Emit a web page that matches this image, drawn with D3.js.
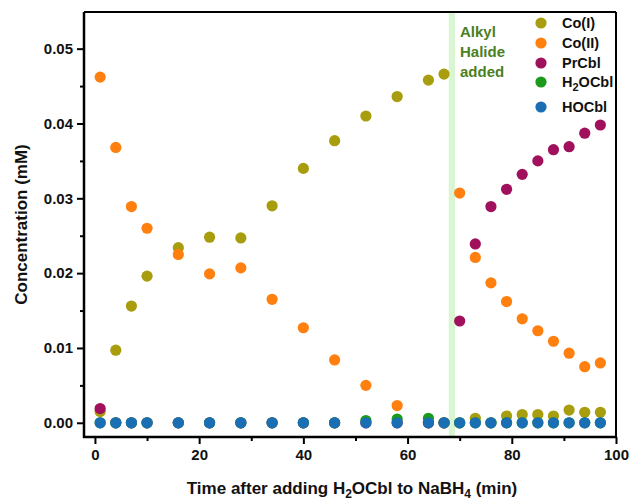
<!DOCTYPE html>
<html>
<head>
<meta charset="utf-8">
<script src="https://cdn.jsdelivr.net/npm/d3@7"></script>
<style>
  body { margin: 0; background: #fff; }
  svg { font-family: Arial, "Liberation Sans", sans-serif; }
</style>
</head>
<body>
<div id="canvas"></div>
<script>
// time points (min)
const times = [1, 4, 7, 10, 16, 22, 28, 34, 40, 46, 52, 58, 64, 67, 70, 73, 76, 79, 82, 85, 88, 91, 94, 97];

// concentrations (mM)
const coI = [0.0015, 0.0097, 0.0156, 0.0196, 0.0234, 0.0248, 0.0247, 0.0290, 0.0340, 0.0377, 0.0410, 0.0436, 0.0458, 0.0466,
  0, 0.0006, 0, 0.0009, 0.0011, 0.0011, 0.0009, 0.0017, 0.0014, 0.0014];
const coII = [0.0462, 0.0368, 0.0289, 0.0260, 0.0225, 0.0199, 0.0207, 0.0165, 0.0127, 0.0084, 0.0050, 0.0023, 0, 0,
  0.0307, 0.0221, 0.0187, 0.0162, 0.0139, 0.0123, 0.0109, 0.0093, 0.0075, 0.0080];
const prCbl = [0.0019, 0, 0, 0, 0, 0, 0, 0, 0, 0, 0, 0, 0, 0,
  0.0136, 0.0239, 0.0289, 0.0312, 0.0332, 0.0350, 0.0365, 0.0369, 0.0387, 0.0398];
const h2oCbl = [0, 0, 0, 0, 0, 0, 0, 0, 0, 0, 0.0003, 0.0005, 0.0006, 0,
  0, 0, 0, 0, 0, 0, 0, 0, 0, 0];
const hoCbl = [0, 0, 0, 0, 0, 0, 0, 0, 0, 0, 0, 0, 0, 0,
  0, 0, 0, 0, 0, 0, 0, 0, 0, 0];

const seriesNames = ["Co(I)", "Co(II)", "PrCbl", "H2OCbl", "HOCbl"];
const seriesValues = [coI, coII, prCbl, h2oCbl, hoCbl];
const seriesColors = ["#a89d0c", "#ff7f0f", "#a0105c", "#1c9a1c", "#1a6fb4"];

const xTicks = [0, 20, 40, 60, 80, 100];
const yTicks = [0, 0.01, 0.02, 0.03, 0.04, 0.05];
const bandRange = [67.9, 69.1];

const width = 632;
const height = 500;
const margin = { top: 12, left: 84, bottom: 63, right: 16 };
const iwidth = width - margin.left - margin.right;
const iheight = height - margin.top - margin.bottom;

const svg = d3.select("#canvas").append("svg")
  .attr("width", width)
  .attr("height", height);

const g = svg.append("g").attr("transform", `translate(${margin.left},${margin.top})`);

const x = d3.scaleLinear().domain([-2.1, 100]).range([0, iwidth]);
const y = d3.scaleLinear().domain([-0.0019, 0.0549]).range([iheight, 0]);

// light green band where alkyl halide was added
g.append("rect")
  .attr("x", x(bandRange[0]))
  .attr("y", 0)
  .attr("width", x(bandRange[1]) - x(bandRange[0]))
  .attr("height", iheight)
  .attr("fill", "#daf5d2");

// points
seriesValues.forEach((vals, i) => {
  g.append("g").selectAll("circle")
    .data(times.map((t, k) => ({ t: t, v: vals[k] })))
    .enter().append("circle")
    .attr("cx", d => x(d.t))
    .attr("cy", d => y(d.v))
    .attr("r", 5.6)
    .attr("fill", seriesColors[i]);
});

// axes
g.append("g")
  .attr("transform", `translate(0,${iheight})`)
  .call(d3.axisBottom(x).tickValues(xTicks).tickSize(7).tickPadding(5).tickFormat(d3.format("d")));
g.append("g")
  .attr("transform", `translate(0,${iheight})`)
  .call(d3.axisBottom(x).tickValues([10, 30, 50, 70, 90]).tickSize(4).tickFormat(""));

g.append("g")
  .call(d3.axisLeft(y).tickValues(yTicks).tickSize(7).tickPadding(4).tickFormat(d3.format(".2f")));
g.append("g")
  .call(d3.axisLeft(y).tickValues([0.005, 0.015, 0.025, 0.035, 0.045]).tickSize(4).tickFormat(""));

g.selectAll(".tick line").attr("stroke", "#000").attr("stroke-width", 2);
g.selectAll(".domain").remove();
g.selectAll(".tick text")
  .attr("fill", "#111")
  .style("font-size", "15px")
  .style("font-weight", "bold");

// frame
g.append("line").attr("x1", 0).attr("x2", 0).attr("y1", 0).attr("y2", iheight + 1)
  .attr("stroke", "#000").attr("stroke-width", 2.5);
g.append("line").attr("x1", -1).attr("x2", iwidth).attr("y1", iheight).attr("y2", iheight)
  .attr("stroke", "#000").attr("stroke-width", 2.5);
g.append("line").attr("x1", 0).attr("x2", iwidth).attr("y1", 0).attr("y2", 0)
  .attr("stroke", "#000").attr("stroke-width", 2);
g.append("line").attr("x1", iwidth).attr("x2", iwidth).attr("y1", 0).attr("y2", iheight)
  .attr("stroke", "#000").attr("stroke-width", 2);

// axis titles
svg.append("text")
  .attr("transform", `translate(27,${margin.top + iheight / 2}) rotate(-90)`)
  .attr("text-anchor", "middle")
  .style("font-size", "17px")
  .style("font-weight", "bold")
  .attr("fill", "#111")
  .text("Concentration (mM)");

const xt = svg.append("text")
  .attr("x", margin.left + iwidth / 2 + 2)
  .attr("y", 494)
  .attr("text-anchor", "middle")
  .style("font-size", "17px")
  .style("font-weight", "bold")
  .attr("fill", "#111");
xt.append("tspan").text("Time after adding H");
xt.append("tspan").attr("dy", 4).style("font-size", "12px").text("2");
xt.append("tspan").attr("dy", -4).text("OCbl to NaBH");
xt.append("tspan").attr("dy", 4).style("font-size", "12px").text("4");
xt.append("tspan").attr("dy", -4).text(" (min)");

// annotation
const note = svg.append("text")
  .attr("x", 460)
  .style("font-size", "15px")
  .style("font-weight", "bold")
  .attr("fill", "#4c7f1e");
["Alkyl", "Halide", "added"].forEach((w, i) => {
  note.append("tspan").attr("x", 460).attr("y", 37 + i * 20).text(w);
});

// legend
const legendY = [23, 43, 63, 82, 107];
const legend = svg.append("g");
seriesNames.forEach((name, i) => {
  legend.append("circle")
    .attr("cx", 541)
    .attr("cy", legendY[i])
    .attr("r", 5.6)
    .attr("fill", seriesColors[i]);
  const t = legend.append("text")
    .attr("x", 562)
    .attr("y", legendY[i] + 5)
    .style("font-size", "14.5px")
    .style("font-weight", "bold")
    .attr("fill", "#111");
  if (name === "H2OCbl") {
    t.append("tspan").text("H");
    t.append("tspan").attr("dy", 4).style("font-size", "11px").text("2");
    t.append("tspan").attr("dy", -4).text("OCbl");
  } else {
    t.text(name);
  }
});
</script>
</body>
</html>
